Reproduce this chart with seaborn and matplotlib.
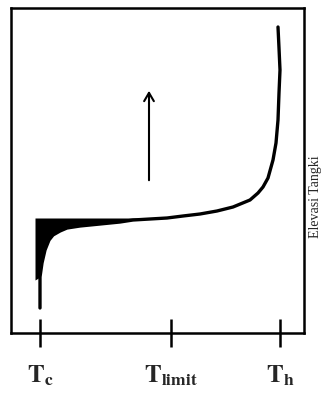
import numpy as np
import pandas as pd
import matplotlib.pyplot as plt
import seaborn as sns

# temperature profile along tank elevation (arbitrary units)
temperature = [40, 40, 40, 42, 45, 49, 53, 60, 67, 80, 100, 120, 133, 150, 167,
               183, 200, 217, 233, 250, 258, 263, 268, 273, 276, 278, 279, 280, 279, 278]
elevation = [25, 40, 56, 70, 83, 93, 98, 102, 105, 107, 109, 111, 113, 114, 115,
             117, 119, 122, 126, 133, 140, 146, 155, 173, 190, 213, 240, 263, 285, 306]

# shaded part: below the horizontal limit level
fill_temp = [35, 40, 42, 45, 49, 53, 60, 67, 80, 100, 120, 133, 150, 167]
fill_elev = [53, 56, 70, 83, 93, 98, 102, 105, 107, 109, 111, 113, 114, 115]
fill_level = 115

tick_pos = [40, 171, 280]
tick_labels = [r'$\mathbf{T}_{\mathbf{c}}$', r'$\mathbf{T}_{\mathbf{limit}}$', r'$\mathbf{T}_{\mathbf{h}}$']

sns.set_style('white')
plt.rcParams['font.family'] = ['Liberation Serif', 'DejaVu Serif']
plt.rcParams['mathtext.fontset'] = 'stix'

fig = plt.figure(figsize=(3.31, 3.97), dpi=100)
ax = fig.add_axes([11 / 331, (397 - 333) / 397, (304 - 11) / 331, (333 - 8) / 397])

df = pd.DataFrame({'temperature': temperature, 'elevation': elevation})
sns.lineplot(data=df, x='temperature', y='elevation', sort=False, color='black',
             lw=2.4, ax=ax, estimator=None)
ax.fill_between(fill_temp, fill_elev, fill_level, color='black', lw=0)

ax.annotate('', xy=(149, 245), xytext=(149, 150),
            arrowprops=dict(arrowstyle='->,head_length=0.6,head_width=0.35', lw=1.5, color='black'))

ax.set_xlim(11, 304)
ax.set_ylim(0, 325)
ax.set_xticks(tick_pos)
ax.set_xticklabels(tick_labels, fontsize=18)
ax.set_yticks([])
ax.set_xlabel('')
ax.set_ylabel('')
ax.tick_params(axis='x', bottom=True, direction='inout', length=20, width=1.8, pad=12, color='black')
for s in ax.spines.values():
    s.set_color('black')
    s.set_linewidth(1.8)

fig.text(316 / 331, 1 - 197 / 397, 'Elevasi Tangki', rotation=90, fontsize=10,
         ha='center', va='center')

fig.savefig('out.png', dpi=100)
